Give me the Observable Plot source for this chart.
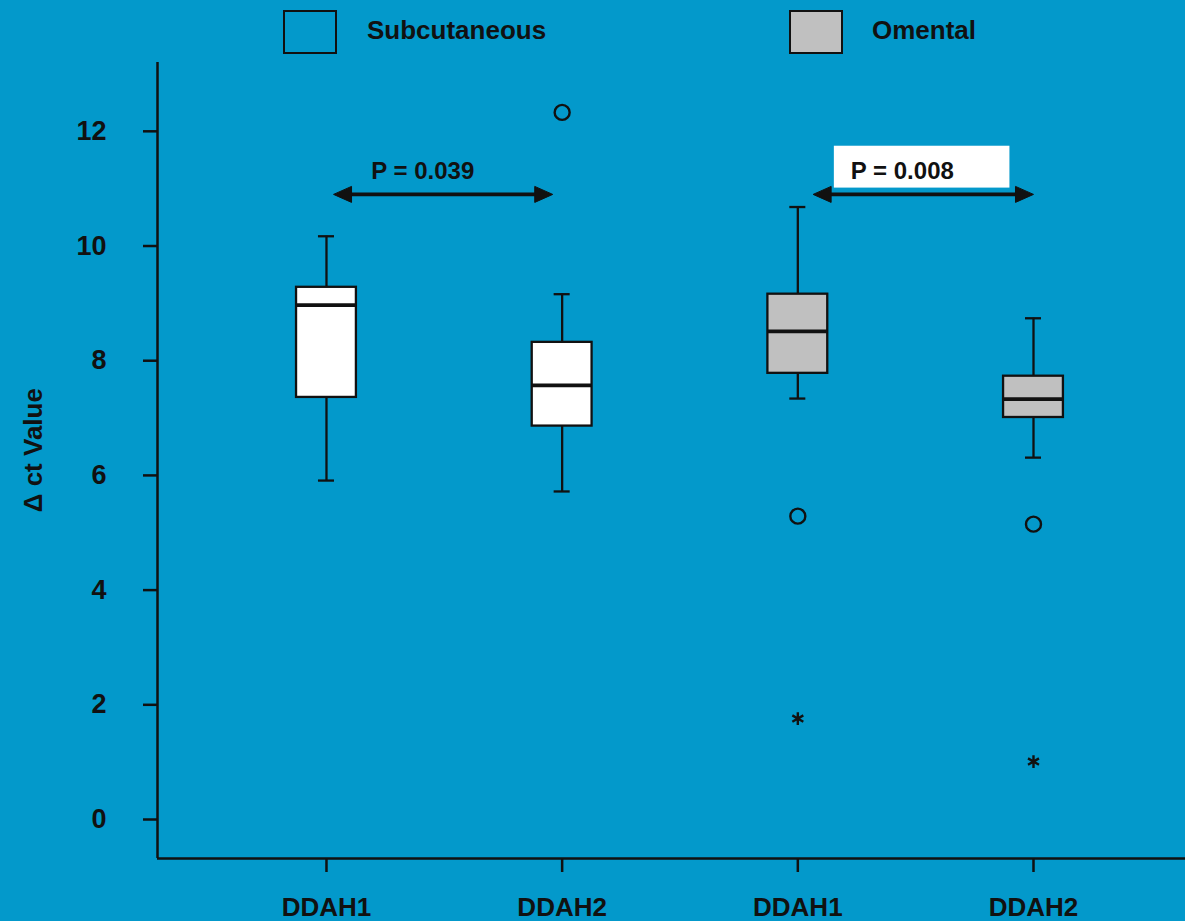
<!DOCTYPE html>
<html>
<head>
<meta charset="utf-8">
<script src="https://cdn.jsdelivr.net/npm/d3@7"></script>
<script src="https://cdn.jsdelivr.net/npm/@observablehq/plot@0.6"></script>
<style>
  html, body { margin: 0; padding: 0; background: #0399cb; }
  body { width: 1185px; height: 921px; overflow: hidden; font-family: "Liberation Sans", Arial, sans-serif; }
  #legend { position: relative; height: 60px; width: 1185px; }
  .sw { position: absolute; top: 10px; width: 50px; height: 40px; border: 2.5px solid #111; box-sizing: content-box; }
  .lt { position: absolute; top: 12px; font-size: 26px; font-weight: bold; color: #111; line-height: 36px; }
  #chart svg { display: block; }
</style>
</head>
<body>
<div id="legend"></div>
<div id="chart"></div>
<script>
// ---- data ----
const legendGroups = ["Subcutaneous", "Omental"];
const legendFills = ["#ffffff", "#c0c0c0"];
const groups = ["Subcutaneous", "Subcutaneous", "Omental", "Omental"];
const genes = ["DDAH1", "DDAH2", "DDAH1", "DDAH2"];
const positions = [1, 2, 3, 4];
const whiskerLow = [5.91, 5.72, 7.34, 6.31];
const q1 = [7.36, 6.86, 7.78, 7.01];
const median = [8.97, 7.57, 8.51, 7.33];
const q3 = [9.28, 8.32, 9.16, 7.73];
const whiskerHigh = [10.17, 9.16, 10.68, 8.74];
const outlierPos = [2, 3, 4];
const outlierVal = [12.33, 5.29, 5.15];
const extremePos = [3, 4];
const extremeVal = [1.76, 1.01];
const yTicks = [0, 2, 4, 6, 8, 10, 12];
const yLabel = "Δ ct Value";
const compFrom = [1.03, 3.065];
const compTo = [1.96, 4.0];
const compY = [10.9, 10.9];
const compLabel = ["P = 0.039", "P = 0.008"];
const compBoxed = [false, true];

// ---- legend ----
const legendLeft = [283, 789];
const legendTextLeft = [367, 872];
const lg = document.getElementById("legend");
legendGroups.forEach((g, i) => {
  const sw = document.createElement("div");
  sw.className = "sw";
  sw.style.left = legendLeft[i] + "px";
  sw.style.background = i === 0 ? "transparent" : legendFills[i];
  lg.appendChild(sw);
  const t = document.createElement("div");
  t.className = "lt";
  t.style.left = legendTextLeft[i] + "px";
  t.textContent = g;
  lg.appendChild(t);
});

// ---- tables ----
const boxes = positions.map((p, i) => ({
  pos: p, group: groups[i], gene: genes[i],
  lo: whiskerLow[i], q1: q1[i], med: median[i], q3: q3[i], hi: whiskerHigh[i]
}));
const outliers = outlierPos.map((p, i) => ({pos: p, v: outlierVal[i]}));
const extremes = extremePos.map((p, i) => ({pos: p, v: extremeVal[i]}));
const comps = compFrom.map((f, i) => ({from: f, to: compTo[i], y: compY[i], label: compLabel[i], boxed: compBoxed[i]}));

const xDom = [0.283, 4.645];
const yDom = [-0.68, 13.2];
const HW = 0.127, CAP = 0.034;
const font = "Liberation Sans, Arial, sans-serif";

const headRight = { draw(ctx) { ctx.moveTo(0, 0); ctx.lineTo(-18, -8); ctx.lineTo(-18, 8); ctx.closePath(); } };
const headLeft = { draw(ctx) { ctx.moveTo(0, 0); ctx.lineTo(18, -8); ctx.lineTo(18, 8); ctx.closePath(); } };

const chart = Plot.plot({
  width: 1185, height: 861,
  marginLeft: 157, marginRight: 0, marginTop: 2, marginBottom: 63,
  style: {background: "transparent", color: "#111", fontFamily: font, overflow: "visible"},
  x: {domain: xDom},
  y: {domain: yDom},
  color: {domain: legendGroups, range: legendFills},
  marks: [
    Plot.axisY({ticks: yTicks, tickSize: 14, tickPadding: 37, tickFormat: d => String(d), fontSize: 27, fontWeight: "bold", fontFamily: font, strokeWidth: 2.5, label: null}),
    Plot.axisX({ticks: positions, tickSize: 14, tickPadding: 25, tickFormat: d => genes[positions.indexOf(d)], fontSize: 26, fontWeight: "bold", fontFamily: font, strokeWidth: 2.5, label: null}),
    Plot.ruleX([xDom[0]], {strokeWidth: 2.5}),
    Plot.ruleY([yDom[0]], {strokeWidth: 2.5}),
    // whiskers
    Plot.ruleX(boxes, {x: "pos", y1: "lo", y2: "hi", strokeWidth: 2.3}),
    Plot.ruleY(boxes, {y: "hi", x1: d => d.pos - CAP, x2: d => d.pos + CAP, strokeWidth: 2.3}),
    Plot.ruleY(boxes, {y: "lo", x1: d => d.pos - CAP, x2: d => d.pos + CAP, strokeWidth: 2.3}),
    // boxes
    Plot.rect(boxes, {x1: d => d.pos - HW, x2: d => d.pos + HW, y1: "q1", y2: "q3", fill: "group", stroke: "#111", strokeWidth: 2.3}),
    Plot.ruleY(boxes, {y: "med", x1: d => d.pos - HW, x2: d => d.pos + HW, strokeWidth: 3.8}),
    // outliers
    Plot.dot(outliers, {x: "pos", y: "v", r: 7.5, stroke: "#111", strokeWidth: 2.4, fill: "none"}),
    Plot.dot(extremes, {x: "pos", y: "v", r: 6, symbol: "asterisk", stroke: "#111", strokeWidth: 2.4}),
    // comparisons
    Plot.rect(comps.filter(d => d.boxed), {x1: d => d.from + 0.09, x2: d => d.to - 0.1, y1: d => d.y + 0.11, y2: d => d.y + 0.84, fill: "white"}),
    Plot.link(comps, {x1: d => d.from + 0.03, x2: d => d.to - 0.03, y1: "y", y2: "y", strokeWidth: 3.8, stroke: "#111"}),
    Plot.dot(comps, {x: "to", y: "y", symbol: headRight, fill: "#111", stroke: "#111", strokeWidth: 1}),
    Plot.dot(comps, {x: "from", y: "y", symbol: headLeft, fill: "#111", stroke: "#111", strokeWidth: 1}),
    Plot.text(comps, {x: d => d.from + 0.16, y: d => d.y + 0.4, text: "label", textAnchor: "start", fontSize: 24, fontWeight: "bold", fontFamily: font, fill: "#111"}),
    // y label
    Plot.text([yLabel], {x: () => xDom[0], y: () => 6.44, text: d => d, rotate: -90, dx: -124, lineAnchor: "middle", textAnchor: "middle", fontSize: 26, fontWeight: "bold", fontFamily: font, fill: "#111"})
  ]
});
document.getElementById("chart").appendChild(chart);
</script>
</body>
</html>
